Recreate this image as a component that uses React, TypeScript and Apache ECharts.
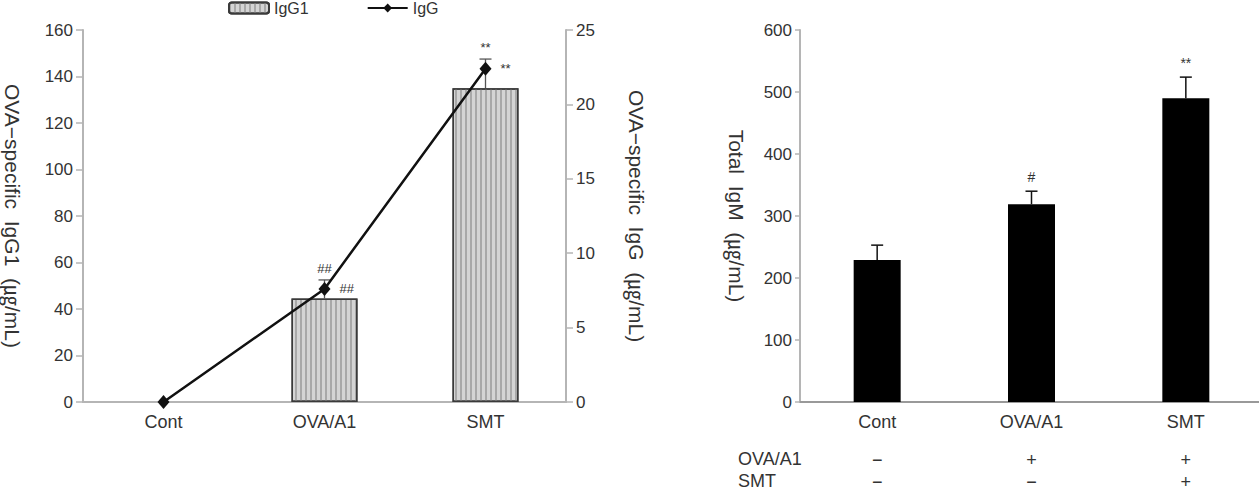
import React, { useEffect, useRef } from "react";
import * as echarts from "echarts";

const categories = ["Cont", "OVA/A1", "SMT"];
// Left panel: OVA-specific IgG1 (bars, left axis) and IgG (line, right axis)
const igg1Values = [0, 44.5, 135];
const igg1Sd = [0, 8, 12.5];
const igg1Sig = ["", "##", "**"];
const iggValues = [0, 7.6, 22.4];
const iggSig = ["", "##", "**"];
// Right panel: total IgM
const igmValues = [229, 319, 490];
const igmSd = [24, 21, 34];
const igmSig = ["", "#", "**"];
// Treatment table
const ovaRow = ["\u2212", "+", "+"];
const smtRow = ["\u2212", "\u2212", "+"];
const rowNames = ["OVA/A1", "SMT"];

const FONT = "'Liberation Sans', Arial, 'Noto Sans CJK KR', sans-serif";
const TXT = "#333";

function errorSeries(
  name: string,
  xAxisIndex: number,
  yAxisIndex: number,
  vals: number[],
  sds: number[],
  sigs: string[],
  color: string,
  lineWidth: number,
  capHalf: number,
  sigSize: number,
  sigGap: number
) {
  return {
    type: "custom",
    name,
    xAxisIndex,
    yAxisIndex,
    z: 5,
    silent: true,
    data: categories.map((_, i) => [i, vals[i], sds[i]]),
    renderItem: (params: any, api: any) => {
      const i = params.dataIndex;
      const mean = api.value(1);
      const sd = api.value(2);
      const children: any[] = [];
      if (sd > 0) {
        const base = api.coord([i, mean]);
        const top = api.coord([i, mean + sd]);
        children.push({
          type: "line",
          shape: { x1: base[0], y1: base[1], x2: top[0], y2: top[1] },
          style: { stroke: color, lineWidth },
        });
        children.push({
          type: "line",
          shape: { x1: top[0] - capHalf, y1: top[1], x2: top[0] + capHalf, y2: top[1] },
          style: { stroke: color, lineWidth },
        });
        if (sigs[i]) {
          children.push({
            type: "text",
            x: top[0],
            y: top[1] - sigGap,
            style: {
              text: sigs[i],
              fill: TXT,
              fontSize: sigSize,
              fontFamily: FONT,
              align: "center",
              verticalAlign: "bottom",
            },
          });
        }
      }
      return { type: "group", children };
    },
  };
}

export default function App() {
  const ref = useRef<HTMLDivElement>(null);

  useEffect(() => {
    if (!ref.current) return;
    const chart = echarts.init(ref.current, undefined, { renderer: "svg" });

    const axisLabel = { color: TXT, fontSize: 17, fontFamily: FONT };
    const nameStyle = { color: TXT, fontSize: 21, fontFamily: FONT };
    const grayLine = { show: true, lineStyle: { color: "#b5b5b5", width: 2 } };
    const grayTick = { show: true, length: 7, lineStyle: { color: "#b5b5b5", width: 1.5 } };

    const option: any = {
      animation: false,
      backgroundColor: "#ffffff",
      textStyle: { fontFamily: FONT },
      legend: {
        left: 228,
        top: 0,
        padding: 0,
        itemWidth: 40,
        itemHeight: 11,
        itemGap: 58,
        textStyle: { color: TXT, fontSize: 16, fontFamily: FONT },
        data: ["IgG1", "IgG"],
      },
      grid: [
        { left: 83, right: 1259 - 566, top: 30, bottom: 93, outerBoundsMode: "none", containLabel: false },
        { left: 800, right: -4, top: 30, bottom: 93, outerBoundsMode: "none", containLabel: false },
      ],
      xAxis: [
        {
          type: "category",
          gridIndex: 0,
          position: "bottom",
          data: categories,
          axisLine: grayLine,
          axisTick: { show: false },
          axisLabel: { ...axisLabel, fontSize: 18, margin: 11 },
        },
        {
          type: "category",
          gridIndex: 1,
          position: "bottom",
          data: categories,
          axisLine: { show: true, lineStyle: { color: "#999", width: 2 } },
          axisTick: { show: false },
          axisLabel: { ...axisLabel, fontSize: 18, margin: 11 },
        },
        {
          type: "category",
          gridIndex: 1,
          position: "bottom",
          data: categories,
          offset: 47,
          axisLine: { show: false },
          axisTick: { show: false },
          axisLabel: {
            ...axisLabel,
            fontSize: 18,
            margin: 2,
            formatter: (_v: string, i: number) => ovaRow[i],
          },
        },
        {
          type: "category",
          gridIndex: 1,
          position: "bottom",
          data: categories,
          offset: 69,
          axisLine: { show: false },
          axisTick: { show: false },
          axisLabel: {
            ...axisLabel,
            fontSize: 18,
            margin: 2,
            formatter: (_v: string, i: number) => smtRow[i],
          },
        },
      ],
      yAxis: [
        {
          type: "value",
          gridIndex: 0,
          min: 0,
          max: 160,
          interval: 20,
          position: "left",
          name: "OVA\u2212specific  IgG1  (\u338D/mL)",
          nameLocation: "middle",
          nameRotate: -90,
          nameGap: 60,
          nameTextStyle: nameStyle,
          axisLine: grayLine,
          axisTick: grayTick,
          axisLabel: { ...axisLabel, margin: 10 },
          splitLine: { show: false },
        },
        {
          type: "value",
          gridIndex: 0,
          min: 0,
          max: 25,
          interval: 5,
          position: "right",
          name: "OVA\u2212specific  IgG  (\u338D/mL)",
          nameLocation: "middle",
          nameRotate: -90,
          nameGap: 60,
          nameTextStyle: nameStyle,
          axisLine: grayLine,
          axisTick: grayTick,
          axisLabel: { ...axisLabel, margin: 10 },
          splitLine: { show: false },
        },
        {
          type: "value",
          gridIndex: 1,
          min: 0,
          max: 600,
          interval: 100,
          position: "left",
          name: "Total  IgM  (\u338D/mL)",
          nameLocation: "middle",
          nameRotate: -90,
          nameGap: 53,
          nameTextStyle: nameStyle,
          axisLine: grayLine,
          axisTick: { ...grayTick, length: 5 },
          axisLabel: { ...axisLabel, margin: 8 },
          splitLine: { show: false },
        },
      ],
      series: [
        {
          name: "IgG1",
          type: "bar",
          xAxisIndex: 0,
          yAxisIndex: 0,
          barWidth: 66,
          data: igg1Values.map((v) =>
            v === 0 ? { value: v, itemStyle: { borderWidth: 0 } } : v
          ),
          itemStyle: {
            color: "#d4d4d4",
            borderColor: "#3a3a3a",
            borderWidth: 1.5,
            decal: {
              symbol: "rect",
              symbolSize: 1,
              color: "#a8a8a8",
              dashArrayX: [2, 3],
              dashArrayY: [4, 0],
              rotation: 0,
            },
          },
        },
        {
          name: "IgG",
          type: "line",
          xAxisIndex: 0,
          yAxisIndex: 1,
          data: iggValues,
          z: 6,
          symbol: "diamond",
          symbolSize: [12, 14],
          lineStyle: { color: "#111", width: 2.5 },
          itemStyle: { color: "#111" },
          label: {
            show: true,
            position: "right",
            distance: 9,
            color: TXT,
            fontSize: 13,
            fontFamily: FONT,
            formatter: (p: any) => iggSig[p.dataIndex],
          },
        },
        errorSeries("IgG1 SD", 0, 0, igg1Values, igg1Sd, igg1Sig, "#555", 1.3, 6, 13, 5),
        {
          name: "IgM",
          type: "bar",
          xAxisIndex: 1,
          yAxisIndex: 2,
          barWidth: 47,
          data: igmValues,
          itemStyle: { color: "#000" },
        },
        errorSeries("IgM SD", 1, 2, igmValues, igmSd, igmSig, "#111", 1.5, 6, 14, 7),
      ],
      graphic: rowNames.map((t, k) => ({
        type: "text",
        left: 738,
        top: 450 + k * 22,
        style: { text: t, fill: TXT, fontSize: 18, fontFamily: FONT },
      })),
    };

    chart.setOption(option);
    return () => chart.dispose();
  }, []);

  return (
    <div
      ref={ref}
      style={{ position: "fixed", left: 0, top: 0, width: 1259, height: 495, background: "#fff" }}
    />
  );
}
